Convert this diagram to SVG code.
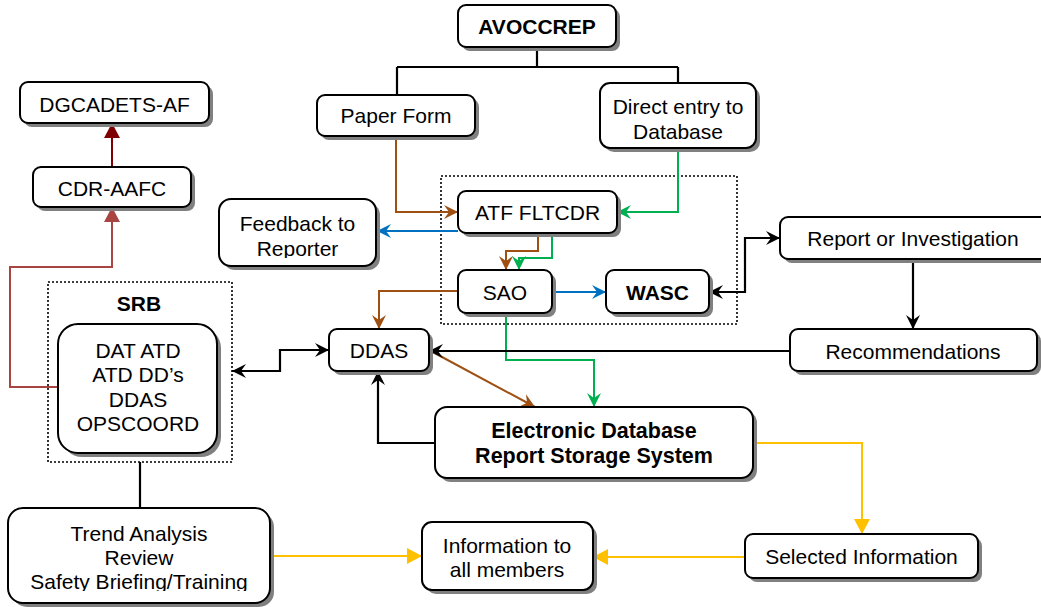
<svg xmlns="http://www.w3.org/2000/svg" width="1041" height="607" viewBox="0 0 1041 607">
  <defs>
    <style>
      .box { fill: #ffffff; stroke: #000000; stroke-width: 2; }
      .shadow { fill: #808080; stroke: none; }
      .group { fill: none; stroke: #000000; stroke-width: 1.6; stroke-dasharray: 2 2; }
      text { font-family: "Liberation Sans", Arial, sans-serif; font-size: 21px; fill: #000000; text-anchor: middle; }
      .b { font-weight: bold; }
      .ln { fill: none; stroke-width: 2; stroke-linejoin: miter; }
      .k { stroke: #000000; stroke-width: 2.2; }
      .brown { stroke: #9E4F12; }
      .green { stroke: #00B050; }
      .blue { stroke: #0070C0; }
      .yellow { stroke: #FFC000; }
      .dred { stroke: #7F0000; }
      .red { stroke: #A84442; }
    </style>
    <marker id="a-brown" markerUnits="userSpaceOnUse" markerWidth="16" markerHeight="14" refX="14" refY="7" orient="auto-start-reverse">
      <path d="M0,0 L14,7 L0,14 L5,7 Z" fill="#9E4F12"/>
    </marker>
    <marker id="a-green" markerUnits="userSpaceOnUse" markerWidth="16" markerHeight="14" refX="14" refY="7" orient="auto-start-reverse">
      <path d="M0,0 L14,7 L0,14 L5,7 Z" fill="#00B050"/>
    </marker>
    <marker id="a-blue" markerUnits="userSpaceOnUse" markerWidth="16" markerHeight="14" refX="14" refY="7" orient="auto-start-reverse">
      <path d="M0,0 L14,7 L0,14 L5,7 Z" fill="#0070C0"/>
    </marker>
    <marker id="a-black" markerUnits="userSpaceOnUse" markerWidth="16" markerHeight="14" refX="14" refY="7" orient="auto-start-reverse">
      <path d="M0,0 L14,7 L0,14 L5,7 Z" fill="#000000"/>
    </marker>
    <marker id="t-yellow" markerUnits="userSpaceOnUse" markerWidth="16" markerHeight="16" refX="15" refY="8" orient="auto">
      <path d="M0,0 L15,8 L0,16 Z" fill="#FFC000"/>
    </marker>
    <marker id="t-dred" markerUnits="userSpaceOnUse" markerWidth="16" markerHeight="16" refX="15" refY="8" orient="auto">
      <path d="M0,0 L15,8 L0,16 Z" fill="#7F0000"/>
    </marker>
    <marker id="t-red" markerUnits="userSpaceOnUse" markerWidth="16" markerHeight="16" refX="15" refY="8" orient="auto">
      <path d="M0,0 L15,8 L0,16 Z" fill="#A84442"/>
    </marker>
    <clipPath id="clip-feedback"><rect x="219" y="199" width="157" height="59"/></clipPath>
    <clipPath id="clip-trend"><rect x="8" y="508" width="262" height="83"/></clipPath>
  </defs>

  <!-- dotted grouping frames -->
  <g id="group-atf">
    <rect class="group" x="441" y="176" width="296" height="148"/>
  </g>
  <g id="group-srb">
    <rect class="group" x="48" y="282" width="184" height="180"/>
    <text class="b" x="139" y="310.5">SRB</text>
  </g>

  <!-- connectors -->
  <g id="connectors">
    <path class="ln k" d="M537,47 V67 M397,67 H678 M397,67 V95 M678,67 V83"/>
    <path class="ln brown" d="M396,136 V212 H458" marker-end="url(#a-brown)"/>
    <path class="ln green" d="M678,148 V212 H617" marker-end="url(#a-green)"/>
    <path class="ln blue" d="M458,231 H377" marker-end="url(#a-blue)"/>
    <path class="ln brown" d="M538,233 V251 H506 V270" marker-end="url(#a-brown)"/>
    <path class="ln green" d="M552,233 V258 H519 V270" marker-end="url(#a-green)"/>
    <path class="ln blue" d="M552,292 H606" marker-end="url(#a-blue)"/>
    <path class="ln brown" d="M458,291 H379 V329" marker-end="url(#a-brown)"/>
    <path class="ln green" d="M506,313 V360 H594 V407" marker-end="url(#a-green)"/>
    <path class="ln brown" d="M429,350 L535,407" marker-end="url(#a-brown)"/>
    <path class="ln k" d="M790,351 H429" marker-end="url(#a-black)"/>
    <path class="ln k" d="M435,443 H378 V371" marker-end="url(#a-black)"/>
    <path class="ln k" d="M232,371 H280 V350 H329" marker-start="url(#a-black)" marker-end="url(#a-black)"/>
    <path class="ln k" d="M709,292 H745 V238 H780" marker-start="url(#a-black)" marker-end="url(#a-black)"/>
    <path class="ln k" d="M913,259 V329" marker-end="url(#a-black)"/>
    <path class="ln yellow" d="M753,443 H862 V534" marker-end="url(#t-yellow)"/>
    <path class="ln yellow" d="M745,557 H593" marker-end="url(#t-yellow)"/>
    <path class="ln yellow" d="M270,556 H422" marker-end="url(#t-yellow)"/>
    <path class="ln red" d="M58,387 H10 V267 H112 V207" marker-end="url(#t-red)"/>
    <path class="ln dred" d="M112,167 V123" marker-end="url(#t-dred)"/>
    <path class="ln k" d="M140,462 V508"/>
  </g>

  <!-- nodes -->
  <g id="avoccrep">
    <rect class="shadow" x="462" y="9" width="158" height="42" rx="8"/>
    <rect class="box" x="458" y="5" width="158" height="42" rx="8"/>
    <text class="b" x="537" y="34.3">AVOCCREP</text>
  </g>
  <g id="paper-form">
    <rect class="shadow" x="321" y="99" width="158" height="41" rx="8"/>
    <rect class="box" x="317" y="95" width="158" height="41" rx="8"/>
    <text x="396" y="123.3">Paper Form</text>
  </g>
  <g id="direct-entry">
    <rect class="shadow" x="604" y="87" width="156" height="65" rx="10"/>
    <rect class="box" x="600" y="83" width="156" height="65" rx="10"/>
    <text x="678" y="114">Direct entry to</text>
    <text x="678" y="139">Database</text>
  </g>
  <g id="dgcadets">
    <rect class="shadow" x="24" y="86" width="189" height="41" rx="8"/>
    <rect class="box" x="20" y="82" width="189" height="41" rx="8"/>
    <text x="114.5" y="111.5">DGCADETS-AF</text>
  </g>
  <g id="cdr-aafc">
    <rect class="shadow" x="37" y="171" width="158" height="40" rx="8"/>
    <rect class="box" x="33" y="167" width="158" height="40" rx="8"/>
    <text x="112" y="195.5">CDR-AAFC</text>
  </g>
  <g id="feedback">
    <rect class="shadow" x="223" y="203" width="157" height="67" rx="12"/>
    <rect class="box" x="219" y="199" width="157" height="67" rx="12"/>
    <g clip-path="url(#clip-feedback)">
      <text x="297.5" y="230.5">Feedback to</text>
      <text x="297.5" y="255.5">Reporter</text>
    </g>
  </g>
  <g id="atf-fltcdr">
    <rect class="shadow" x="462" y="195" width="159" height="42" rx="8"/>
    <rect class="box" x="458" y="191" width="159" height="42" rx="8"/>
    <text x="537.5" y="220">ATF FLTCDR</text>
  </g>
  <g id="sao">
    <rect class="shadow" x="462" y="274" width="94" height="43" rx="8"/>
    <rect class="box" x="458" y="270" width="94" height="43" rx="8"/>
    <text x="505" y="300">SAO</text>
  </g>
  <g id="wasc">
    <rect class="shadow" x="610" y="274" width="103" height="43" rx="8"/>
    <rect class="box" x="606" y="270" width="103" height="43" rx="8"/>
    <text class="b" x="657.5" y="300">WASC</text>
  </g>
  <g id="report-investigation">
    <rect class="shadow" x="784" y="221" width="270" height="42" rx="8"/>
    <rect class="box" x="780" y="217" width="270" height="42" rx="8"/>
    <text x="913" y="246">Report or Investigation</text>
  </g>
  <g id="recommendations">
    <rect class="shadow" x="794" y="333" width="247" height="42" rx="8"/>
    <rect class="box" x="790" y="329" width="247" height="42" rx="8"/>
    <text x="913" y="359">Recommendations</text>
  </g>
  <g id="ddas">
    <rect class="shadow" x="333" y="333" width="100" height="42" rx="8"/>
    <rect class="box" x="329" y="329" width="100" height="42" rx="8"/>
    <text x="379" y="358">DDAS</text>
  </g>
  <g id="srb-members">
    <rect class="shadow" x="62" y="328" width="159" height="129" rx="20"/>
    <rect class="box" x="58" y="324" width="159" height="129" rx="20"/>
    <text x="138" y="358">DAT ATD</text>
    <text x="138" y="382">ATD DD’s</text>
    <text x="138" y="406.5">DDAS</text>
    <text x="138" y="430.5">OPSCOORD</text>
  </g>
  <g id="electronic-database">
    <rect class="shadow" x="439" y="411" width="318" height="71" rx="12"/>
    <rect class="box" x="435" y="407" width="318" height="71" rx="12"/>
    <text class="b" x="594" y="437.7" style="font-size:21.5px">Electronic Database</text>
    <text class="b" x="594" y="462.7" style="font-size:21.5px">Report Storage System</text>
  </g>
  <g id="trend-analysis">
    <rect class="shadow" x="12" y="512" width="262" height="95" rx="15"/>
    <rect class="box" x="8" y="508" width="262" height="95" rx="15"/>
    <g clip-path="url(#clip-trend)">
      <text x="139" y="541">Trend Analysis</text>
      <text x="139" y="565">Review</text>
      <text x="139" y="589.3">Safety Briefing/Training</text>
    </g>
  </g>
  <g id="info-members">
    <rect class="shadow" x="426" y="526" width="171" height="68" rx="10"/>
    <rect class="box" x="422" y="522" width="171" height="68" rx="10"/>
    <text x="507" y="553">Information to</text>
    <text x="507" y="576.7">all members</text>
  </g>
  <g id="selected-info">
    <rect class="shadow" x="749" y="538" width="233" height="44" rx="8"/>
    <rect class="box" x="745" y="534" width="233" height="44" rx="8"/>
    <text x="861.5" y="564">Selected Information</text>
  </g>
</svg>
